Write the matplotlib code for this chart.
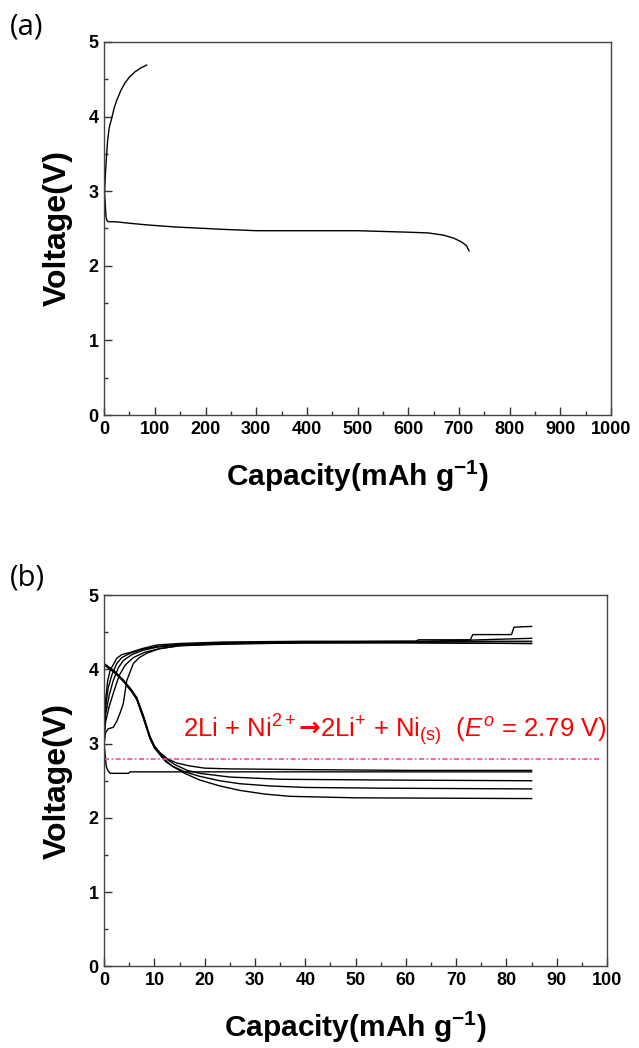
import matplotlib.pyplot as plt
from matplotlib.ticker import MultipleLocator

plt.rcParams['font.family'] = ['Liberation Sans', 'DejaVu Sans']
plt.rcParams['mathtext.fontset'] = 'custom'
plt.rcParams['mathtext.rm'] = 'Liberation Sans'
plt.rcParams['mathtext.it'] = 'Liberation Sans:italic'
plt.rcParams['mathtext.bf'] = 'Liberation Sans:bold'
plt.rcParams['mathtext.sf'] = 'DejaVu Sans:bold'

# (a) first cycle, capacity in mAh/g
a_dis_x = [0, 1, 2, 3, 4, 6, 9, 22, 50, 81, 100, 140, 200, 228, 300, 400, 500, 550, 600, 640, 670, 690, 705, 715, 720]
a_dis_v = [3.0, 2.95, 2.85, 2.72, 2.64, 2.6, 2.59, 2.59, 2.57, 2.55, 2.54, 2.52, 2.5, 2.49, 2.47, 2.47, 2.47, 2.46, 2.45, 2.44, 2.41, 2.37, 2.32, 2.27, 2.2]
a_chg_x = [0, 1, 2, 3, 5, 7, 10, 15, 20, 25, 33, 41, 50, 61, 72, 84]
a_chg_v = [2.9, 3.0, 3.15, 3.3, 3.5, 3.69, 3.85, 3.98, 4.12, 4.22, 4.35, 4.45, 4.53, 4.6, 4.65, 4.69]

# (b) cycling at limited capacity
b_first_x = [0, 0.2, 0.4, 0.7, 1.2, 2, 4.8, 5.2, 85]
b_first_v = [3.0, 2.85, 2.7, 2.64, 2.6, 2.6, 2.6, 2.62, 2.62]

b_dis_x = [
    [0, 2, 3.8, 5.5, 6.5, 7.8, 9.1, 10, 11.1, 12.5, 14.4, 17, 20, 25, 40, 60, 85],
    [0, 2, 3.8, 5.5, 6.5, 7.8, 9.1, 10, 11.1, 12.5, 14, 16.5, 19, 25, 35, 55, 85],
    [0, 2, 3.8, 5.5, 6.5, 7.8, 9.1, 10, 11.1, 12.3, 13.5, 16, 19, 23, 27, 33, 40, 55, 85],
    [0, 2, 3.8, 5.5, 6.5, 7.8, 9.1, 10, 11.1, 12.2, 13.7, 16, 19, 23, 27, 32, 37, 50, 85],
]
b_dis_v = [
    [4.08, 3.98, 3.86, 3.72, 3.62, 3.38, 3.1, 2.97, 2.88, 2.8, 2.74, 2.7, 2.67, 2.66, 2.65, 2.64, 2.64],
    [4.07, 3.97, 3.85, 3.71, 3.61, 3.36, 3.09, 2.96, 2.87, 2.79, 2.72, 2.64, 2.6, 2.55, 2.52, 2.51, 2.5],
    [4.07, 3.97, 3.85, 3.7, 3.6, 3.35, 3.08, 2.95, 2.86, 2.77, 2.7, 2.62, 2.56, 2.5, 2.46, 2.43, 2.41, 2.4, 2.39],
    [4.06, 3.96, 3.84, 3.7, 3.59, 3.34, 3.07, 2.94, 2.85, 2.76, 2.69, 2.6, 2.51, 2.43, 2.37, 2.32, 2.29, 2.27, 2.26],
]

b_chg_x = [
    [0, 0.3, 0.7, 1.2, 2.5, 3.5, 5.2, 7.5, 10.5, 15, 23.7, 40, 62, 62.5, 72.8, 73.3, 81, 81.5, 85],
    [0, 0.3, 0.8, 1.5, 2.5, 3.5, 5.2, 7.5, 10.5, 15, 24, 40, 60, 85],
    [0, 0.3, 1, 1.8, 2.8, 3.8, 5.5, 7.8, 10.5, 15, 24, 40, 60, 85],
    [0, 0.3, 1, 2, 3, 4.2, 5.8, 8, 11, 15, 24, 40, 60, 85],
    [0, 0.3, 0.8, 1.8, 2.5, 3.2, 3.8, 4.5, 5.8, 7, 8.5, 11, 15, 24, 40, 60, 85],
]
b_chg_v = [
    [3.1, 3.6, 3.85, 3.99, 4.15, 4.2, 4.23, 4.28, 4.33, 4.35, 4.37, 4.38, 4.38, 4.4, 4.4, 4.47, 4.47, 4.57, 4.58],
    [3.1, 3.5, 3.75, 3.92, 4.08, 4.16, 4.22, 4.27, 4.31, 4.34, 4.36, 4.37, 4.38, 4.38],
    [3.1, 3.4, 3.65, 3.85, 4.02, 4.12, 4.2, 4.26, 4.3, 4.33, 4.35, 4.36, 4.36, 4.35],
    [3.1, 3.3, 3.5, 3.72, 3.92, 4.06, 4.16, 4.23, 4.28, 4.32, 4.34, 4.36, 4.37, 4.42],
    [3.0, 3.15, 3.2, 3.22, 3.3, 3.42, 3.54, 3.85, 4.08, 4.16, 4.22, 4.28, 4.32, 4.35, 4.36, 4.36, 4.35],
]

e_ni = 2.79
e_line_x = [0, 98.5]


def style_axes(ax, xmax, xmajor, xminor):
    ax.set_xlim(0, xmax)
    ax.set_ylim(0, 5)
    ax.xaxis.set_major_locator(MultipleLocator(xmajor))
    ax.xaxis.set_minor_locator(MultipleLocator(xminor))
    ax.yaxis.set_major_locator(MultipleLocator(1))
    ax.yaxis.set_minor_locator(MultipleLocator(0.5))
    ax.tick_params(which='both', direction='in', color='#333333', width=1)
    ax.tick_params(which='major', length=6, labelsize=13, pad=4)
    ax.tick_params(which='minor', length=3)
    for lab in ax.get_xticklabels() + ax.get_yticklabels():
        lab.set_fontweight('bold')
    for sp in ax.spines.values():
        sp.set_color('#444444')
        sp.set_linewidth(1.0)
    ax.set_xlabel(r'Capacity(mAh g$\mathbf{^{-1}}$)', fontsize=21.5, fontweight='bold', labelpad=15)
    ax.set_ylabel('Voltage(V)', fontsize=23, fontweight='bold', labelpad=11)


fig = plt.figure(figsize=(6.39, 10.48), dpi=100)
ax1 = fig.add_axes([0.163, 0.604, 0.793, 0.356])
ax2 = fig.add_axes([0.163, 0.078, 0.787, 0.354])

ax1.plot(a_dis_x, a_dis_v, color='black', lw=1.0)
ax1.plot(a_chg_x, a_chg_v, color='black', lw=1.0)
style_axes(ax1, 1000, 100, 50)

ax2.plot(b_first_x, b_first_v, color='black', lw=1.0)
for xs, vs in zip(b_dis_x, b_dis_v):
    ax2.plot(xs, vs, color='black', lw=1.0)
for xs, vs in zip(b_chg_x, b_chg_v):
    ax2.plot(xs, vs, color='black', lw=1.0)
ax2.plot(e_line_x, [e_ni, e_ni], color='#ff44aa', lw=1.2, dashes=(3, 1.5, 1, 1.5))
ax2.text(15.7, 3.09,
         '2Li + Ni$^{2+}\\mathsf{\u2192}$2Li$^{+}$ + Ni$_{\\mathrm{(s)}}$  ($E^{o}$ = 2.79 V)',
         color='red', fontsize=18.5, va='baseline', ha='left')
style_axes(ax2, 100, 10, 5)

fig.text(0.015, 0.988, '(a)', fontsize=21, family=['Open Sans', 'DejaVu Sans'], va='top')
fig.text(0.015, 0.462, '(b)', fontsize=21, family=['Open Sans', 'DejaVu Sans'], va='top')

fig.savefig('out.png', dpi=100)
